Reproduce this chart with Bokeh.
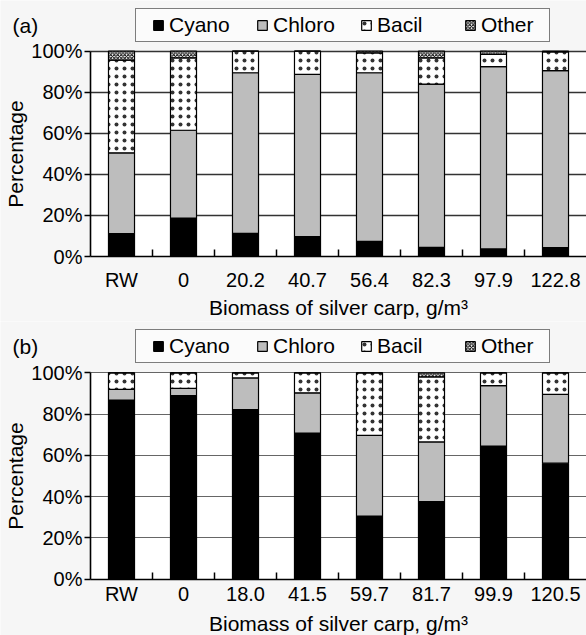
from bokeh.plotting import figure
from bokeh.models import (Range1d, FixedTicker, Legend, LegendItem, Label,
                          ColumnDataSource, LinearAxis, Grid, BoxAnnotation)
from bokeh.layouts import column
from bokeh.embed import file_html
from bokeh.resources import INLINE

# ---------------- data ----------------
series = ["Cyano", "Chloro", "Bacil", "Other"]

cats_a = ["RW", "0", "20.2", "40.7", "56.4", "82.3", "97.9", "122.8"]
cyano_a = [11.2, 18.7, 11.3, 9.7, 7.4, 4.4, 3.7, 4.3]
chloro_a = [39.3, 42.8, 78.2, 79.0, 82.1, 79.6, 88.8, 86.2]
bacil_a = [45.2, 35.2, 10.5, 11.3, 9.7, 12.7, 6.0, 9.1]
other_a = [4.3, 3.3, 0.0, 0.0, 0.8, 3.3, 1.5, 0.4]

cats_b = ["RW", "0", "18.0", "41.5", "59.7", "81.7", "99.9", "120.5"]
cyano_b = [86.8, 89.0, 82.2, 70.8, 30.6, 37.6, 64.5, 56.2]
chloro_b = [5.2, 3.5, 15.3, 19.5, 39.1, 28.9, 29.3, 33.3]
bacil_b = [8.0, 7.5, 2.5, 9.7, 30.3, 31.5, 6.2, 10.5]
other_b = [0.0, 0.0, 0.0, 0.0, 0.0, 2.0, 0.0, 0.0]

y_ticks = [0, 20, 40, 60, 80, 100]
y_tick_labels = ["0%", "20%", "40%", "60%", "80%", "100%"]
x_title = "Biomass of silver carp, g/m\u00b3"
y_title = "Percentage"

# ---------------- style / layout ----------------
FONT = "Liberation Sans"
W = 586
LEFT = 90          # pixel position of the value axis
fills = ["black", "#bdbdbd", "white", "white"]
patterns = ["blank", "blank", "dot", "x"]
hscales = [8, 8, 8, 3.5]
hweights = [1, 1, 0.3, 1.0]
halphas = [1, 1, 0.8, 1.0]
BG = "#f6f6f6"


def make_panel(tag, cats, vals, height, y0px, y100px, grid_color, grid_width,
               lab_standoff, title_standoff):
    n = len(cats)
    span = (W - LEFT) / n                 # pixels per category
    ppu = (y0px - y100px) / 100.0         # pixels per percent
    x_range = Range1d(-0.5 - LEFT / span, n - 0.5)
    y_range = Range1d(-(height - y0px) / ppu, 100 + y100px / ppu)

    p = figure(width=W, height=height, x_range=x_range, y_range=y_range,
               x_axis_type=None, y_axis_type=None,
               output_backend="svg", toolbar_location=None, min_border=0)
    p.border_fill_color = BG
    p.background_fill_color = BG
    p.outline_line_color = None

    # white plotting area
    p.add_layout(BoxAnnotation(left=-0.5, right=n - 0.5, bottom=0, top=100,
                               fill_color="white", fill_alpha=1.0,
                               line_color=None, level="image"))

    grid = Grid(dimension=1, ticker=FixedTicker(ticks=y_ticks[1:]),
                cross_bounds=(-0.5, n - 0.5),
                grid_line_color=grid_color, grid_line_width=grid_width)
    p.add_layout(grid)

    data = dict(x=list(range(n)))
    for s, v in zip(series, vals):
        data[s] = v
    src = ColumnDataSource(data)
    rs = p.vbar_stack(series, x="x", width=0.42, source=src,
                      fill_color=fills, hatch_pattern=patterns,
                      hatch_scale=hscales, hatch_weight=hweights,
                      hatch_alpha=halphas,
                      hatch_color="black", line_color="black", line_width=1.2)

    # category axis
    xa = LinearAxis(fixed_location=0, bounds=(-0.5, n - 0.5))
    xa.ticker = FixedTicker(ticks=list(range(n)),
                            minor_ticks=[i + 0.5 for i in range(n - 1)])
    xa.major_label_overrides = {i: c for i, c in enumerate(cats)}
    xa.major_tick_in = 0
    xa.major_tick_out = 0
    xa.minor_tick_in = 7
    xa.minor_tick_out = 0
    xa.minor_tick_line_color = "black"
    xa.minor_tick_line_width = 1.5
    xa.axis_line_color = "black"
    xa.axis_line_width = 1.6
    xa.major_label_text_font = FONT
    xa.major_label_text_font_size = "20px"
    xa.major_label_text_color = "black"
    xa.major_label_standoff = lab_standoff
    xa.axis_label = x_title
    xa.axis_label_text_font = FONT
    xa.axis_label_text_font_size = "21px"
    xa.axis_label_text_font_style = "normal"
    xa.axis_label_text_color = "black"
    xa.axis_label_standoff = title_standoff
    p.add_layout(xa, "below")

    # value axis
    ya = LinearAxis(fixed_location=-0.5, bounds=(0, 100))
    ya.ticker = FixedTicker(ticks=y_ticks, minor_ticks=[])
    ya.major_label_overrides = {t: l for t, l in zip(y_ticks, y_tick_labels)}
    ya.major_tick_in = 0
    ya.major_tick_out = 6
    ya.major_tick_line_color = "black"
    ya.major_tick_line_width = 1.5
    ya.axis_line_color = "black"
    ya.axis_line_width = 1.6
    ya.major_label_text_font = FONT
    ya.major_label_text_font_size = "20px"
    ya.major_label_text_color = "black"
    ya.major_label_standoff = 2
    ya.axis_label = y_title
    ya.axis_label_text_font = FONT
    ya.axis_label_text_font_size = "21px"
    ya.axis_label_text_font_style = "normal"
    ya.axis_label_text_color = "black"
    ya.axis_label_standoff = 1
    p.add_layout(ya, "left")

    legend = Legend(items=[LegendItem(label=s, renderers=[r]) for s, r in zip(series, rs)],
                    orientation="horizontal", location=(135, height - 42),
                    title=" ", title_location="left", title_standoff=6,
                    title_text_font=FONT, title_text_font_size="6px",
                    label_text_font=FONT, label_text_font_size="21px",
                    label_text_color="black",
                    glyph_width=12, glyph_height=12, label_standoff=5,
                    label_width=64, spacing=23, padding=4, margin=0,
                    border_line_color="black", border_line_width=1.3,
                    background_fill_color="#fbfbfb", background_fill_alpha=1.0)
    p.add_layout(legend)

    p.add_layout(Label(x=12, y=height - 25, x_units="screen", y_units="screen",
                       text=tag, text_font=FONT, text_font_size="21px",
                       text_color="black", text_baseline="middle"))
    return p


pa = make_panel("(a)", cats_a, [cyano_a, chloro_a, bacil_a, other_a],
                height=321, y0px=256, y100px=50.7,
                grid_color="#333333", grid_width=1.6,
                lab_standoff=12, title_standoff=2)
pb = make_panel("(b)", cats_b, [cyano_b, chloro_b, bacil_b, other_b],
                height=314, y0px=257.7, y100px=51.3,
                grid_color="#666666", grid_width=1.0,
                lab_standoff=4, title_standoff=3)

layout = column(pa, pb, spacing=0)
open("out.html", "w").write(file_html(layout, INLINE))
